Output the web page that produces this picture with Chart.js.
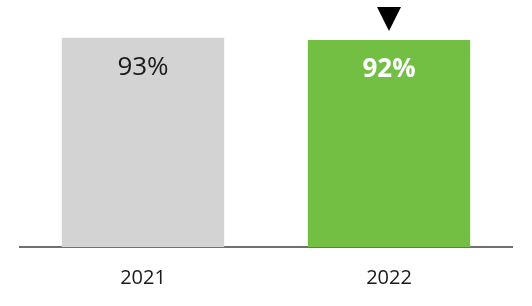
<!DOCTYPE html>
<html><head><meta charset="utf-8">
<script src="https://cdn.jsdelivr.net/npm/chart.js@4.4.1/dist/chart.umd.min.js"></script>
<style>html,body{margin:0;padding:0;background:#fff}#wrap{width:532px;height:306px}</style>
</head><body><div id="wrap"><canvas id="c" width="532" height="306"></canvas></div>
<script>
const categories = ["2021", "2022"];
const values = [93, 92];
const valueLabels = ["93%", "92%"];
const barColors = ["#d3d3d3", "#72bf44"];
const labelColors = ["#1a1a1a", "#ffffff"];
const labelBold = [false, true];
const markerIndex = 1;

const labelPlugin = {
  id: 'labels',
  afterDatasetsDraw(chart) {
    const ctx = chart.ctx;
    const meta = chart.getDatasetMeta(0);
    meta.data.forEach((bar, i) => {
      ctx.save();
      ctx.font = (labelBold[i] ? 'bold ' : '') + '26px "Open Sans"';
      ctx.fillStyle = labelColors[i];
      ctx.textAlign = 'center';
      ctx.textBaseline = 'middle';
      ctx.fillText(valueLabels[i], bar.x, bar.y + 30);
      ctx.restore();
    });
    const b = meta.data[markerIndex];
    ctx.save();
    ctx.fillStyle = '#000';
    ctx.beginPath();
    ctx.moveTo(b.x - 12, b.y - 33);
    ctx.lineTo(b.x + 12, b.y - 33);
    ctx.lineTo(b.x, b.y - 9);
    ctx.closePath();
    ctx.fill();
    ctx.restore();
  }
};

new Chart(document.getElementById('c'), {
  type: 'bar',
  data: { labels: categories, datasets: [{ data: values, backgroundColor: barColors, barPercentage: 0.66, categoryPercentage: 1 }] },
  options: {
    responsive: false, animation: false,
    layout: { padding: { left: 20, right: 20, top: 22, bottom: 0 } },
    plugins: { legend: { display: false }, tooltip: { enabled: false } },
    scales: {
      x: {
        grid: { display: false, drawTicks: false },
        border: { display: true, color: '#707070', width: 2 },
        ticks: { color: '#1a1a1a', font: { family: '"Open Sans"', size: 20 }, padding: 19 },
        afterFit(s) { s.height = 59; }
      },
      y: { display: false, min: 0, max: 100 }
    }
  },
  plugins: [labelPlugin]
});
</script></body></html>
